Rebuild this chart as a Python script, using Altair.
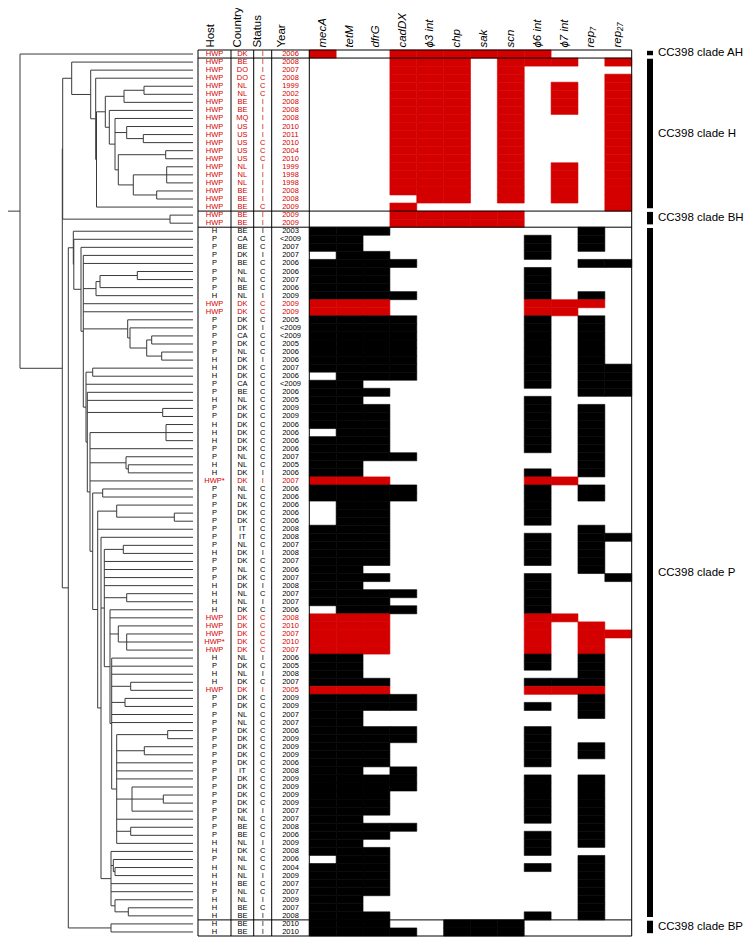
import altair as alt
import pandas as pd

# ---------------------------------------------------------------- data
CLADES = ["AH", "H", "BH", "P", "BP"]
CLADE_SIZES = [1, 19, 2, 86, 2]

GENES = ["mecA", "tetM", "dfrG", "cadDX", "ϕ3 int", "chp", "sak", "scn",
         "ϕ6 int", "ϕ7 int", "rep₇", "rep₂₇"]

HOST = [
    "HWP",
    "HWP", "HWP", "HWP", "HWP", "HWP", "HWP", "HWP", "HWP", "HWP", "HWP",
    "HWP", "HWP", "HWP", "HWP", "HWP", "HWP", "HWP", "HWP", "HWP",
    "HWP", "HWP",
    "H", "P", "P", "P", "P", "P", "P", "P", "H", "HWP",
    "HWP", "P", "P", "P", "P", "P", "H", "H", "H", "P",
    "P", "H", "P", "P", "H", "H", "H", "P", "P", "H",
    "H", "HWP*", "P", "P", "P", "P", "P", "P", "P", "P",
    "H", "P", "P", "P", "H", "H", "H", "H", "HWP", "HWP",
    "HWP", "HWP*", "HWP", "H", "P", "H", "H", "HWP", "P", "P",
    "P", "P", "P", "P", "P", "P", "P", "P", "P", "P",
    "P", "P", "P", "P", "P", "P", "H", "H", "P", "H",
    "H", "H", "P", "H", "H", "H",
    "H", "H",
]

COUNTRY = [
    "DK",
    "BE", "DO", "DO", "NL", "NL", "BE", "BE", "MQ", "US", "US",
    "US", "US", "US", "NL", "NL", "NL", "BE", "BE", "BE",
    "BE", "BE",
    "BE", "CA", "BE", "DK", "BE", "NL", "NL", "BE", "NL", "DK",
    "DK", "DK", "DK", "CA", "DK", "NL", "DK", "DK", "DK", "CA",
    "BE", "NL", "DK", "DK", "DK", "DK", "DK", "DK", "NL", "NL",
    "DK", "DK", "NL", "NL", "DK", "DK", "DK", "IT", "IT", "NL",
    "DK", "DK", "NL", "DK", "DK", "NL", "NL", "DK", "DK", "DK",
    "DK", "DK", "DK", "NL", "DK", "NL", "DK", "DK", "DK", "DK",
    "NL", "NL", "DK", "DK", "DK", "DK", "DK", "IT", "DK", "DK",
    "DK", "DK", "DK", "NL", "BE", "BE", "NL", "DK", "NL", "NL",
    "NL", "BE", "NL", "NL", "BE", "BE",
    "BE", "BE",
]

STATUS = [
    "I",
    "I", "I", "C", "C", "C", "I", "I", "I", "I", "I",
    "C", "C", "C", "I", "I", "I", "I", "I", "C",
    "I", "I",
    "I", "C", "C", "I", "C", "C", "C", "C", "I", "C",
    "C", "C", "I", "C", "C", "C", "I", "C", "C", "C",
    "C", "C", "C", "C", "C", "C", "C", "C", "C", "C",
    "I", "I", "C", "C", "C", "C", "C", "C", "C", "C",
    "I", "C", "C", "C", "I", "C", "I", "C", "C", "C",
    "C", "C", "C", "I", "C", "I", "C", "I", "C", "C",
    "C", "C", "C", "C", "C", "C", "C", "C", "C", "C",
    "C", "C", "I", "C", "C", "C", "I", "C", "C", "C",
    "I", "C", "C", "I", "C", "I",
    "I", "I",
]

YEAR = [
    "2006",
    "2008", "2007", "2008", "1999", "2002", "2008", "2008", "2008", "2010", "2011",
    "2010", "2004", "2010", "1999", "1998", "1998", "2008", "2008", "2009",
    "2009", "2009",
    "2003", "<2009", "2007", "2007", "2006", "2006", "2007", "2006", "2009", "2009",
    "2009", "2005", "<2009", "<2009", "2005", "2006", "2006", "2007", "2006", "<2009",
    "2006", "2005", "2009", "2009", "2006", "2006", "2006", "2006", "2007", "2005",
    "2006", "2007", "2006", "2006", "2006", "2006", "2006", "2008", "2008", "2007",
    "2008", "2007", "2006", "2007", "2008", "2007", "2007", "2006", "2008", "2010",
    "2007", "2010", "2007", "2006", "2005", "2008", "2007", "2005", "2009", "2009",
    "2007", "2007", "2006", "2009", "2009", "2009", "2006", "2008", "2009", "2009",
    "2009", "2009", "2007", "2007", "2008", "2006", "2009", "2008", "2006", "2004",
    "2009", "2007", "2007", "2009", "2007", "2008",
    "2010", "2010",
]

# gene presence per row, one character per gene in GENES order
PROFILE = [
    "100111111000",
    "000111011101", "000111010000", "000111010001", "000111010101", "000111010101",
    "000111010101", "000111010101", "000111010001", "000111010001", "000111010001",
    "000111010001", "000111010001", "000111010001", "000111010101", "000111010101",
    "000111010101", "000111010101", "000011010101", "000100000001",
    "000111110000", "000111110000",
    "111000000010", "110000001010", "110000001010", "011000001000", "111100000011",
    "111000001000", "111000001000", "111000001000", "111100001010", "111000001110",
    "111000001100", "111100001010", "111100001010", "111100001010", "111100001010",
    "111100001010", "111100001010", "111100001011", "011100001011", "110000001011",
    "111000000011", "110000001000", "111000001010", "111000001010", "111000001010",
    "011000001010", "111000001010", "111000001010", "111100000010", "110000000010",
    "110000001010", "111000001100", "111100001010", "111100001010", "011000001000",
    "011000001000", "011000001000", "111000000010", "111000001011", "111000001010",
    "111000001010", "111000001010", "110000000010", "111000001001", "110000001000",
    "111100001000", "111000001000", "011100001000", "111000001100", "111000001010",
    "111000001011", "111000001010", "111000001010", "110000001010", "110000001010",
    "110000000010", "111000001110", "111000001110", "111100000010", "111100001010",
    "110000000010", "110000000000", "111100001000", "111100001000", "111000001010",
    "111000001010", "111000001000", "110100000000", "111100001010", "111100001010",
    "111000001010", "111000001010", "111000001010", "110000001010", "111100000010",
    "111000001010", "110000001010", "111000001000", "011000000010", "111000001010",
    "111000000010", "111000000010", "111000000010", "110000000010", "110000000010",
    "111000001010",
    "111001110000", "111101110000",
]

# tree: node -> (depth from root, children in top-to-bottom order); ints are leaf rows
TREE = {
    "root": (0.0, [0, "A"]),
    "A": (42.3, ["HB", "B"]),
    "HB": (42.7, ["H", "BH"]),
    "H": (51.7, [1, "h2"]),
    "h2": (70.7, [2, "h3"]),
    "h3": (75.7, [3, "h4"]),
    "h4": (76.5, ["h5", 19]),
    "h5": (85.3, ["h6", "h8"]),
    "h6": (104.0, ["h7", 6]),
    "h7": (124.0, [4, 5]),
    "h8": (89.3, [7, "h9"]),
    "h9": (95.0, [8, "h10", "h12"]),
    "h10": (106.7, [9, "h11"]),
    "h11": (123.3, [10, 11]),
    "h12": (98.3, ["h13", "h14"]),
    "h13": (145.7, [12, 13]),
    "h14": (113.3, ["h15", "h16"]),
    "h15": (146.7, [14, 15, 16]),
    "h16": (136.7, [17, 18]),
    "BH": (150.0, [20, 21]),
    "B": (48.3, ["P", "BP"]),
    "BP": (91.0, [108, 109]),
    "P": (53.3, [22, "Q"]),
    "Q": (53.8, [23, "R"]),
    "R": (61.0, [24, "R2"]),
    "R2": (63.3, [25, 26, "n288", 31, 32, "n383", "S"]),
    "n288": (76.0, ["n300", 30]),
    "n300": (80.0, ["n412", 29]),
    "n412": (117.3, [27, 28]),
    "n383": (107.7, [33, "n390"]),
    "n390": (110.0, [34, "n440"]),
    "n440": (126.7, ["n455", "n485"]),
    "n455": (131.7, [35, 36]),
    "n485": (141.7, [37, 38]),
    "S": (66.0, ["n278", 41, "T"]),
    "n278": (72.7, [39, 40]),
    "T": (67.3, [42, 43, "n488", "U"]),
    "n488": (142.7, [44, 45]),
    "U": (70.0, ["n498", 49, "n378", 53, "V"]),
    "n498": (146.0, [46, 47, 48]),
    "n378": (106.0, [50, "n385"]),
    "n385": (108.3, [51, 52]),
    "V": (72.7, ["n308", "W"]),
    "n308": (82.7, [54, 55]),
    "W": (77.7, ["n350", 59, "X2"]),
    "n350": (96.7, [56, "n523"]),
    "n523": (154.3, [57, 58]),
    "X2": (81.0, [60, "Y", "Xb"]),
    "Y": (84.3, ["n370", 63, 64, 65, 66, "n380p", "Z"]),
    "n370": (103.3, [61, 62]),
    "n380p": (106.7, [67, 68]),
    "Z": (90.0, [69, 70, "n355p", "ZZ"]),
    "n355p": (98.3, [71, "n380q"]),
    "n380q": (106.7, [72, 73, 74]),
    "ZZ": (91.7, [75, 76, 77, "n392", "n375", 82, 83, "Z3"]),
    "n392": (110.7, [78, 79]),
    "n375": (105.0, [80, 81]),
    "Z3": (96.7, ["n503", "n433", 88, 89, 90, "n396", 95, "n392b", 98]),
    "n503": (147.7, [84, 85]),
    "n433": (124.3, [86, 87]),
    "n396": (112.0, [91, "n490", 94]),
    "n490": (143.3, [92, 93]),
    "n392b": (110.7, [96, 97]),
    "Xb": (91.0, [99, "n340", 103, 104, "n345b"]),
    "n340": (93.3, [100, "n345c"]),
    "n345c": (95.0, [101, 102]),
    "n345b": (95.0, [105, "n385b"]),
    "n385b": (108.3, [106, 107]),
}
LEAF_DEPTH = 173.0

# ---------------------------------------------------------------- layout / style
W, H = 736, 930
RED = "#d40000"
FONT = "Liberation Sans"
N = len(HOST)
YS = alt.Scale(domain=[0, N], range=[42, 928], nice=False, zero=False)
DS = alt.Scale(domain=[0, LEAF_DEPTH], range=[12, 185], nice=False, zero=False)
GS = alt.Scale(domain=[0, len(GENES)], range=[301.3, 623.7], nice=False, zero=False)
PXS = alt.Scale(domain=[0, W], range=[0, W], nice=False, zero=False)
ROOT_STUB = 12.0
TABLE_LEFT, TABLE_RIGHT = 190, 623.7
COL_EDGES = [190, 223, 245.7, 263.7, 301.3, 623.7]
COL_CENTERS = {"host": 206.5, "country": 234.4, "status": 254.7, "year": 282.5}
HEAD_X = {"Host": 203, "Country": 229.5, "Status": 249.5, "Year": 274}
HEAD_Y = -0.3
HEAD_SIZE = 11.5

color = alt.Color("grp:N", scale=alt.Scale(domain=["hwp", "other"], range=[RED, "#000000"]),
                  legend=None)

# ---------------------------------------------------------------- tables
rows = pd.DataFrame({"row": list(range(N)), "host": HOST, "country": COUNTRY,
                     "status": STATUS, "year": YEAR})
rows["yc"] = rows["row"] + 0.5
rows["grp"] = ["hwp" if h.startswith("HWP") else "other" for h in HOST]

cells = []
for r, prof in enumerate(PROFILE):
    for i, ch in enumerate(prof):
        if ch == "1":
            cells.append({"row": r, "row2": r + 1, "gi": i, "gi2": i + 1,
                          "grp": rows["grp"][r]})
cells = pd.DataFrame(cells)

# dendrogram segments
ys = {}


def y_of(n):
    if isinstance(n, int):
        return n + 0.5
    if n not in ys:
        ch = TREE[n][1]
        ys[n] = (y_of(ch[0]) + y_of(ch[-1])) / 2
    return ys[n]


segs = []
for name, (d, ch) in TREE.items():
    segs.append({"x": d, "x2": d, "y": y_of(ch[0]), "y2": y_of(ch[-1])})
    for c in ch:
        cd = LEAF_DEPTH if isinstance(c, int) else TREE[c][0]
        segs.append({"x": d, "x2": cd, "y": y_of(c), "y2": y_of(c)})
segs.append({"x": -ROOT_STUB, "x2": 0.0, "y": y_of("root"), "y2": y_of("root")})
segs = pd.DataFrame(segs)

bounds = [0]
for s in CLADE_SIZES:
    bounds.append(bounds[-1] + s)
clades = pd.DataFrame({
    "label": ["CC398 clade " + c for c in CLADES],
    "b0": [b + 0.1 for b in bounds[:-1]],
    "b1": [b - 0.35 for b in bounds[1:]],
})
clades["mid"] = (clades["b0"] + clades["b1"]) / 2

hlines = pd.DataFrame({"y": bounds})
vlines = pd.DataFrame({"px": COL_EDGES, "y": [0] * len(COL_EDGES), "y2": [N] * len(COL_EDGES)})

gene_head = pd.DataFrame({"gx": [i + 0.5 for i in range(len(GENES))], "label": GENES,
                          "hy": [HEAD_Y] * len(GENES)})
col_head = pd.DataFrame({"label": list(HEAD_X.keys()), "hy": [HEAD_Y] * 4})

# ---------------------------------------------------------------- layers
dendro = alt.Chart(segs).mark_rule(color="#3a3a3a", strokeWidth=1).encode(
    x=alt.X("x:Q", scale=DS, axis=None), x2="x2:Q",
    y=alt.Y("y:Q", scale=YS, axis=None), y2="y2:Q")

stroke = alt.Stroke("grp:N", scale=alt.Scale(domain=["hwp", "other"], range=[RED, "#000000"]),
                    legend=None)
heat = alt.Chart(cells).mark_rect(strokeWidth=0.6).encode(
    x=alt.X("gi:Q", scale=GS, axis=None), x2="gi2:Q",
    y=alt.Y("row:Q", scale=YS, axis=None), y2="row2:Q", color=color, stroke=stroke)

hl = alt.Chart(hlines).mark_rule(color="black", strokeWidth=1).encode(
    x=alt.value(TABLE_LEFT), x2=alt.value(TABLE_RIGHT),
    y=alt.Y("y:Q", scale=YS, axis=None))

vl = alt.Chart(vlines).mark_rule(color="black", strokeWidth=1).encode(
    x=alt.X("px:Q", scale=PXS, axis=None),
    y=alt.Y("y:Q", scale=YS, axis=None), y2="y2:Q")


def col_text(field):
    return alt.Chart(rows).mark_text(font=FONT, fontSize=7.5, baseline="middle",
                                     align="center").encode(
        x=alt.value(COL_CENTERS[field]),
        y=alt.Y("yc:Q", scale=YS, axis=None),
        text=alt.Text(f"{field}:N"), color=color)


gh = alt.Chart(gene_head).mark_text(font=FONT, fontSize=HEAD_SIZE, fontStyle="italic",
                                    angle=270, align="left", baseline="middle").encode(
    x=alt.X("gx:Q", scale=GS, axis=None),
    y=alt.Y("hy:Q", scale=YS, axis=None), text="label:N")

chl = []
for lab, px in HEAD_X.items():
    chl.append(alt.Chart(col_head[col_head["label"] == lab]).mark_text(
        font=FONT, fontSize=HEAD_SIZE, angle=270, align="left", baseline="middle").encode(
        x=alt.value(px), y=alt.Y("hy:Q", scale=YS, axis=None), text="label:N"))

cbar = alt.Chart(clades).mark_rect(color="black").encode(
    x=alt.value(639), x2=alt.value(645),
    y=alt.Y("b0:Q", scale=YS, axis=None), y2="b1:Q")

clab = alt.Chart(clades).mark_text(font=FONT, fontSize=11.5, align="left",
                                   baseline="middle").encode(
    x=alt.value(650), y=alt.Y("mid:Q", scale=YS, axis=None), text="label:N")

chart = alt.layer(
    dendro, heat, hl, vl,
    col_text("host"), col_text("country"), col_text("status"), col_text("year"),
    gh, *chl, cbar, clab,
).resolve_scale(x="independent").properties(
    width=W, height=H, padding=0, autosize=alt.AutoSizeParams(type="none")
).configure_view(strokeWidth=0)

chart.save("out.html", embed_options={"renderer": "svg", "actions": False})
